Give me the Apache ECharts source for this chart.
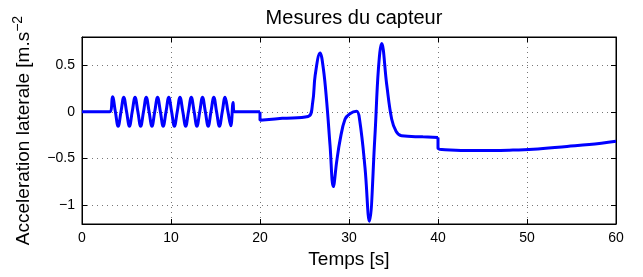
<!DOCTYPE html>
<html>
<head>
<meta charset="utf-8">
<script src="https://cdn.jsdelivr.net/npm/echarts@6/dist/echarts.min.js"></script>
<style>
  html, body { margin: 0; padding: 0; background: #fff; }
  #chart { width: 643px; height: 277px; }
</style>
</head>
<body>
<div id="chart"></div>
<script>
// Axis ticks
const xTicks = [0, 10, 20, 30, 40, 50, 60]
const yTicks = [-1, -0.5, 0, 0.5]

// Segment 1 : 0 - 20 s (oscillation)
const t1 = [0, 3.1, 3.43, 3.75, 4.06, 4.38, 4.69, 5.01, 5.33, 5.64, 5.96, 6.28, 6.59, 6.91, 7.22, 7.54,
  7.86, 8.17, 8.49, 8.81, 9.12, 9.44, 9.75, 10.07, 10.38, 10.7, 11.01, 11.33, 11.65, 11.96, 12.28,
  12.6, 12.91, 13.23, 13.54, 13.86, 14.18, 14.49, 14.81, 15.12, 15.44, 15.76, 16.07, 16.4, 16.72,
  16.98, 17.1, 20]
const a1 = [0, 0, 0.16, 0, -0.155, 0, 0.155, 0, -0.155, 0, 0.155, 0, -0.155, 0, 0.155, 0,
  -0.155, 0, 0.155, 0, -0.155, 0, 0.155, 0, -0.155, 0, 0.155, 0, -0.155, 0, 0.155,
  0, -0.155, 0, 0.155, 0, -0.155, 0, 0.155, 0, -0.155, 0, 0.155, 0, -0.15,
  0.1, 0, 0]

// Segment 2 : 20 - 40 s (manoeuvre)
const t2 = [20, 20, 22.5, 25.4, 25.92, 26.2, 26.75, 27.12, 27.5, 27.87, 28.24, 28.62, 29.0, 29.55,
  30.1, 30.85, 31.2, 31.8, 32.28, 32.9, 33.3, 33.67, 34.24, 34.8, 35.3, 35.9, 38.3, 40]
const a2 = [0, -0.09, -0.07, -0.05, 0.1, 0.39, 0.63, 0.46, 0.1, -0.36, -0.8, -0.53, -0.3, -0.08,
  -0.02, 0.005, -0.09, -0.6, -1.17, -0.28, 0.45, 0.73, 0.29, -0.08, -0.21, -0.257, -0.268, -0.274]

// Segment 3 : 40 - 60 s
const t3 = [40, 40, 42, 44.7, 48, 50.7, 54.5, 57, 60]
const a3 = [-0.274, -0.39, -0.41, -0.415, -0.41, -0.4, -0.37, -0.35, -0.315]

const zip = (t, a) => t.map((v, i) => [v, a[i]])

const fontFamily = '"Liberation Sans", Arial, sans-serif'
const gridLine = { show: true, lineStyle: { color: '#777', type: [1, 4], width: 1 } }

const makeSeries = (data) => ({
  type: 'line',
  data: data,
  smooth: 0.4,
  showSymbol: false,
  lineStyle: { color: '#0000ff', width: 3 },
  itemStyle: { color: '#0000ff' },
  xAxisIndex: 0,
  yAxisIndex: 0
})

const chart = echarts.init(document.getElementById('chart'), null, { renderer: 'canvas' })

chart.setOption({
  animation: false,
  backgroundColor: '#fff',
  textStyle: { fontFamily: fontFamily, color: '#000' },
  title: {
    text: 'Mesures du capteur',
    left: 349,
    textAlign: 'center',
    top: 3,
    textStyle: { fontFamily: fontFamily, fontSize: 20, fontWeight: 'normal', color: '#000' }
  },
  grid: {
    left: 82, right: 27, top: 37, bottom: 53,
    show: true, borderColor: '#000', borderWidth: 1, backgroundColor: '#fff'
  },
  xAxis: [
    {
      type: 'value',
      min: 0, max: 60, interval: 10,
      name: 'Temps [s]',
      nameLocation: 'middle',
      nameGap: 24,
      nameTextStyle: { fontFamily: fontFamily, fontSize: 19, color: '#000' },
      axisLine: { show: true, onZero: false, lineStyle: { color: '#000' } },
      axisTick: { show: true, inside: true, length: 5, lineStyle: { color: '#000' } },
      axisLabel: { fontFamily: fontFamily, fontSize: 14, color: '#000', margin: 7 },
      splitLine: gridLine
    },
    {
      type: 'value',
      position: 'top',
      min: 0, max: 60, interval: 10,
      axisLine: { show: true, onZero: false, lineStyle: { color: '#000' } },
      axisTick: { show: true, inside: true, length: 5, lineStyle: { color: '#000' } },
      axisLabel: { show: false },
      splitLine: { show: false }
    }
  ],
  yAxis: [
    {
      type: 'value',
      min: -1.2, max: 0.8,
      name: '{a|Acceleration laterale [m.s}{s|−2}',
      nameLocation: 'middle',
      nameGap: 45,
      nameTextStyle: {
        rich: {
          a: { fontFamily: fontFamily, fontSize: 19, color: '#000' },
          s: { fontFamily: fontFamily, fontSize: 14, color: '#000', verticalAlign: 'bottom', padding: [0, 0, 12, 0] }
        }
      },
      axisLine: { show: true, onZero: false, lineStyle: { color: '#000' } },
      axisTick: { show: true, inside: true, length: 5, customValues: yTicks, lineStyle: { color: '#000' } },
      axisLabel: {
        fontFamily: fontFamily, fontSize: 14, color: '#000', margin: 7,
        customValues: yTicks,
        formatter: (v) => (v < 0 ? '−' + Math.abs(v) : String(v))
      },
      splitLine: gridLine
    },
    {
      type: 'value',
      position: 'right',
      min: -1.2, max: 0.8,
      axisLine: { show: true, onZero: false, lineStyle: { color: '#000' } },
      axisTick: { show: true, inside: true, length: 5, customValues: yTicks, lineStyle: { color: '#000' } },
      axisLabel: { show: false },
      splitLine: { show: false }
    }
  ],
  series: [
    makeSeries(zip(t1, a1)),
    makeSeries(zip(t2, a2)),
    makeSeries(zip(t3, a3))
  ]
})
</script>
</body>
</html>
